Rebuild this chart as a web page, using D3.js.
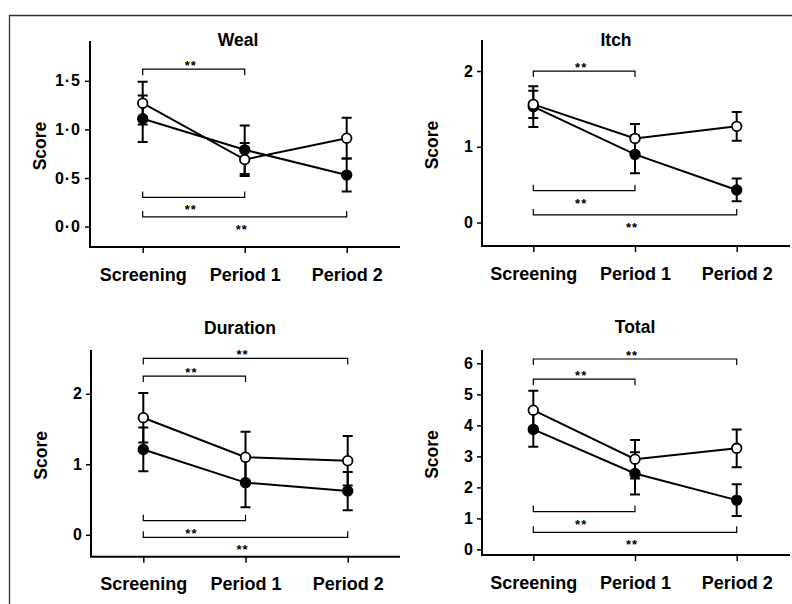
<!DOCTYPE html>
<meta charset="utf-8">
<style>
body { margin: 0; background: #fff; }
text { font-family: "Liberation Sans", Arial, sans-serif; font-weight: bold; fill: #000; }
.axis line, .axis path { stroke: #000; }
</style>
<body>
<script src="https://d3js.org/d3.v7.min.js"></script>
<script>

var width = 792,
    height = 604;

// data
var periods = ["Screening", "Period 1", "Period 2"];
var titles = ["Weal", "Itch", "Duration", "Total"];

var filledMean = [[1.11, 0.79, 0.53], [1.53, 0.90, 0.43], [1.21, 0.74, 0.62], [3.87, 2.45, 1.59]];
var filledErr  = [[0.24, 0.25, 0.17], [0.27, 0.25, 0.15], [0.31, 0.35, 0.27], [0.56, 0.68, 0.51]];
var openMean   = [[1.27, 0.69, 0.91], [1.56, 1.11, 1.27], [1.66, 1.10, 1.05], [4.49, 2.91, 3.26]];
var openErr    = [[0.22, 0.17, 0.21], [0.18, 0.19, 0.19], [0.35, 0.36, 0.35], [0.63, 0.62, 0.61]];

var yTicks = [[0, 0.5, 1, 1.5], [0, 1, 2], [0, 1, 2], [0, 1, 2, 3, 4, 5, 6]];
var yDomains = [[-0.21, 1.91], [-0.31, 2.41], [-0.31, 2.62], [-0.18, 6.43]];

// significance brackets: [from, to, level, side]  side 1 = ticks down / stars above
var brackets = [
  [[0, 1, 1.62, 1], [0, 1, 0.30, -1], [0, 2, 0.10, -1]],
  [[0, 1, 2.00, 1], [0, 1, 0.42, -1], [0, 2, 0.10, -1]],
  [[0, 2, 2.50, 1], [0, 1, 2.25, 1], [0, 1, 0.20, -1], [0, 2, -0.035, -1]],
  [[0, 2, 6.14, 1], [0, 1, 5.49, 1], [0, 1, 1.22, -1], [0, 2, 0.55, -1]]
];

// panel frames (pixels)
var frames = [
  {ax: 90,  end: 400, top: 41,  base: 247,   x0: 142.7, x1: 346.7, tx: 238, ty: 46},
  {ax: 482, end: 790, top: 40,  base: 246,   x0: 533.3, x1: 736.7, tx: 616, ty: 46},
  {ax: 91,  end: 400, top: 350, base: 556.7, x0: 143.3, x1: 347.7, tx: 240, ty: 334},
  {ax: 482, end: 790, top: 350, base: 555,   x0: 533.3, x1: 736.7, tx: 635, ty: 333}
];

var svg = d3.select("body").append("svg")
    .attr("width", width)
    .attr("height", height);

// outer frame (cut off on right and bottom)
svg.append("path")
    .attr("d", "M9.5," + height + "V15.5H" + width)
    .attr("fill", "none")
    .attr("stroke", "#333")
    .attr("stroke-width", 1.3);

var fmt = function(d) { return d3.format(".1f")(d).replace(".", "\u00b7"); };

titles.forEach(function(title, i) {
  var f = frames[i];
  var g = svg.append("g");

  var x = d3.scalePoint().domain(periods).range([f.x0, f.x1]);
  var y = d3.scaleLinear().domain(yDomains[i]).range([f.base, f.top]);

  // axes
  var yAxis = d3.axisLeft(y)
      .tickValues(yTicks[i])
      .tickSize(5)
      .tickPadding(4)
      .tickFormat(i == 0 ? fmt : d3.format("d"));
  var ya = g.append("g").attr("class", "axis")
      .attr("transform", "translate(" + f.ax + ",0)")
      .call(yAxis);
  ya.select(".domain").remove();
  ya.selectAll("line").attr("stroke-width", 1.5);
  ya.selectAll("text").style("font-size", "16px").style("letter-spacing", i == 0 ? "1px" : null);

  var xAxis = d3.axisBottom(x).tickSize(6).tickPadding(15);
  var xa = g.append("g").attr("class", "axis")
      .attr("transform", "translate(0," + f.base + ")")
      .call(xAxis);
  xa.select(".domain").remove();
  xa.selectAll("line").attr("stroke-width", 1.5);
  xa.selectAll("text").style("font-size", "18px").attr("dy", "0.71em");

  g.append("path")
      .attr("d", "M" + f.ax + "," + f.top + "V" + f.base + "H" + f.end)
      .attr("fill", "none")
      .attr("stroke", "#000")
      .attr("stroke-width", 2);

  // title and y label
  g.append("text")
      .attr("x", f.tx)
      .attr("y", f.ty)
      .attr("text-anchor", "middle")
      .style("font-size", "17.5px")
      .text(title);

  g.append("text")
      .attr("transform", "translate(" + (f.ax - 50) + "," + ((f.top + f.base) / 2 + 2) + ") rotate(-90)")
      .attr("text-anchor", "middle")
      .attr("dy", "0.35em")
      .style("font-size", "17.5px")
      .text("Score");

  // brackets
  brackets[i].forEach(function(b) {
    var xa0 = x(periods[b[0]]), xa1 = x(periods[b[1]]), yl = y(b[2]);
    g.append("path")
        .attr("d", "M" + xa0 + "," + (yl + 6 * b[3]) + "V" + yl + "H" + xa1 + "V" + (yl + 6 * b[3]))
        .attr("fill", "none")
        .attr("stroke", "#000")
        .attr("stroke-width", 1.2);
    g.append("text")
        .attr("x", (xa0 + xa1) / 2 - 3)
        .attr("y", b[3] > 0 ? yl + 1 : yl + 17)
        .attr("text-anchor", "middle")
        .style("font-size", "13px")
        .style("letter-spacing", "1px")
        .text("**");
  });

  // series
  var series = [
    {mean: filledMean[i], err: filledErr[i], fill: "#000"},
    {mean: openMean[i], err: openErr[i], fill: "#fff"}
  ];

  var line = d3.line()
      .x(function(d, j) { return x(periods[j]); })
      .y(function(d) { return y(d); });

  series.forEach(function(s) {
    s.mean.forEach(function(m, j) {
      var cx = x(periods[j]);
      var hi = y(m + s.err[j]), lo = y(m - s.err[j]);
      g.append("path")
          .attr("d", "M" + cx + "," + hi + "V" + lo +
                     "M" + (cx - 5) + "," + hi + "H" + (cx + 5) +
                     "M" + (cx - 5) + "," + lo + "H" + (cx + 5))
          .attr("stroke", "#000")
          .attr("stroke-width", 2);
    });
  });

  series.forEach(function(s) {
    g.append("path")
        .datum(s.mean)
        .attr("d", line)
        .attr("fill", "none")
        .attr("stroke", "#000")
        .attr("stroke-width", 2);
  });

  series.forEach(function(s) {
    g.selectAll(null)
        .data(s.mean)
        .enter().append("circle")
        .attr("cx", function(d, j) { return x(periods[j]); })
        .attr("cy", function(d) { return y(d); })
        .attr("r", 4.8)
        .attr("fill", s.fill)
        .attr("stroke", "#000")
        .attr("stroke-width", 1.8);
  });
});

</script>
